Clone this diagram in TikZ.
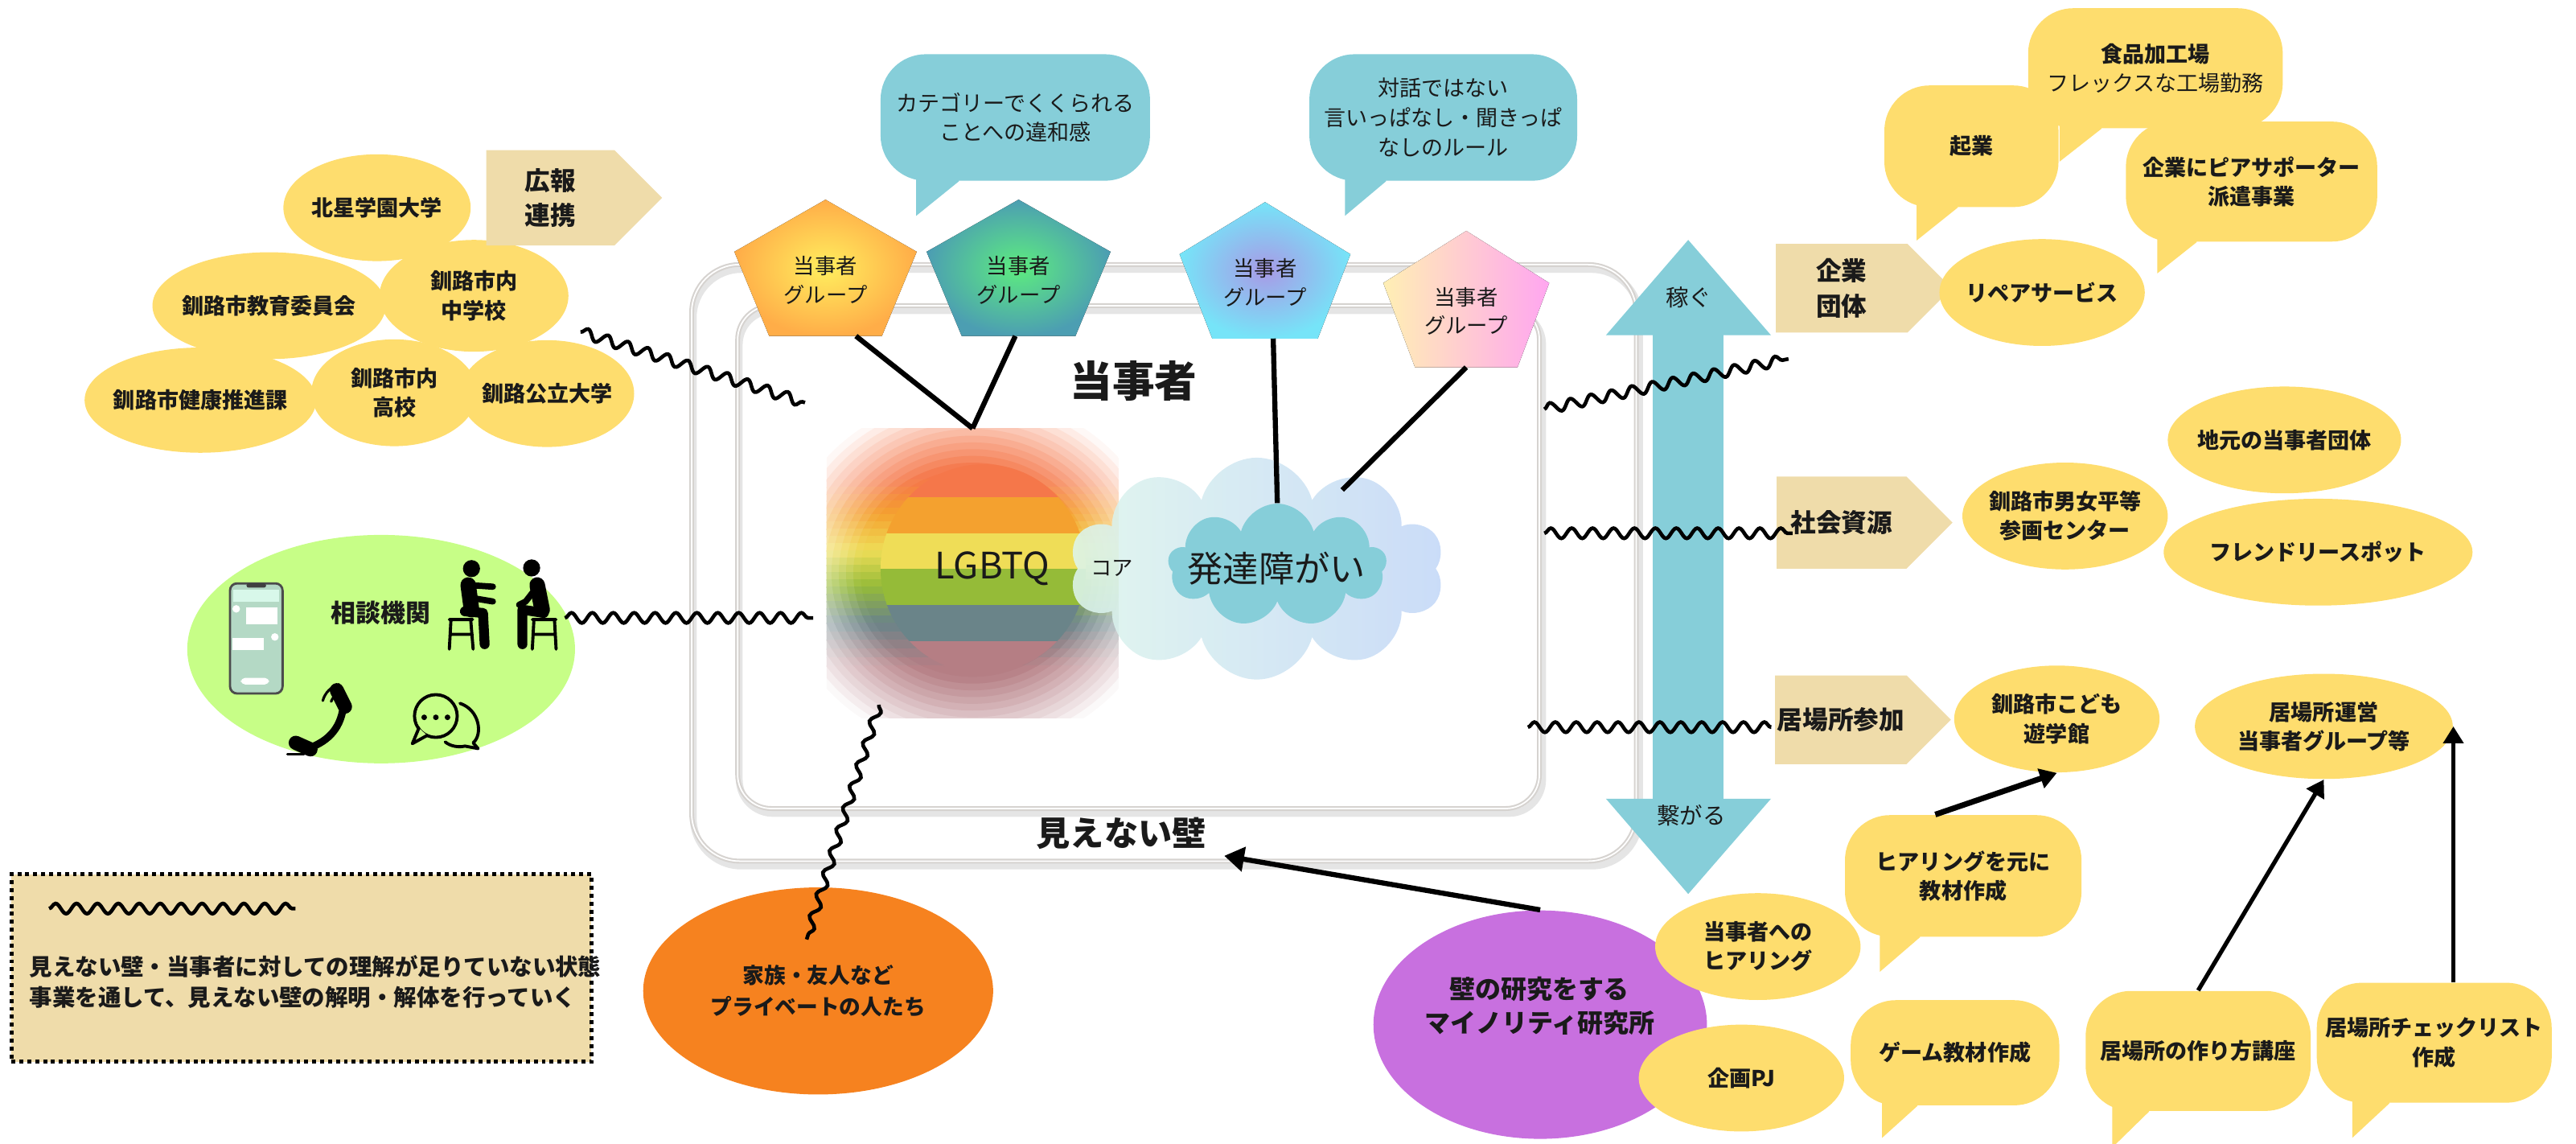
\documentclass[tikz,border=0pt]{standalone}
\usepackage{fontspec}
\setmainfont{Noto Sans CJK JP}
\usetikzlibrary{shapes.geometric,shapes.symbols,decorations.pathmorphing,arrows.meta}

\newlength{\pxu}
\setlength{\pxu}{0.020427cm}

\definecolor{yelc}{HTML}{FEDD6E}
\definecolor{tanc}{HTML}{EFDCAA}
\definecolor{tealc}{HTML}{86CED9}
\definecolor{limec}{HTML}{C7FE87}
\definecolor{orangec}{HTML}{F6821F}
\definecolor{purplec}{HTML}{C870DF}
\definecolor{framec}{HTML}{D6D3D0}
\definecolor{inkc}{HTML}{1A1A1A}
\definecolor{mintc}{HTML}{DDF5EC}
\definecolor{periwc}{HTML}{C3D7F7}
\definecolor{phonec}{HTML}{B4D9C5}
\definecolor{phonetopc}{HTML}{D8F8EA}
\definecolor{pgAin}{HTML}{FFEE5E}\definecolor{pgAout}{HTML}{FFAD48}
\definecolor{pgBin}{HTML}{5DEC7F}\definecolor{pgBout}{HTML}{4C9EB2}
\definecolor{pgCin}{HTML}{A89AE6}\definecolor{pgCout}{HTML}{76E4F8}
\definecolor{pgDl}{HTML}{FFEFB4}\definecolor{pgDr}{HTML}{FFA6F0}
% rainbow bands, top to bottom
\definecolor{rbA}{HTML}{F5774A}
\definecolor{rbB}{HTML}{F4A12F}
\definecolor{rbC}{HTML}{EFDD57}
\definecolor{rbD}{HTML}{95BB38}
\definecolor{rbE}{HTML}{6A8489}
\definecolor{rbF}{HTML}{B57E84}

% pentagon for one group: name, centre, half width, fill
\newcommand{\grouppent}[4]{%
  \fill[#4] (#2) +(0,-41.5) -- +(#3,-9.8) -- +({0.618*#3},41.5) -- +({-0.618*#3},41.5) -- +(-#3,-9.8) -- cycle;
  \path (#2) ++(0,41.5) coordinate (#1-foot);
  \path (#2) ++(0,7.5) node[grp] (#1) {当事者\\グループ};}
% tail under a speech bubble: node, colour, left offset, right offset, drop
\newcommand{\bubbletail}[5]{%
  \fill[#2] ([xshift=#3\pxu, yshift=14\pxu]#1.south west) -- ([xshift=#3\pxu, yshift=-#5\pxu]#1.south west)
    -- ([xshift=#4\pxu]#1.south west) -- ([xshift=#4\pxu, yshift=14\pxu]#1.south west) -- cycle;}

\begin{document}
\begin{tikzpicture}[x=0.020427cm, y=-0.020427cm,
  every node/.style={text=inkc},
  lbl/.style={font=\fontsize{7.7}{10.3}\selectfont\bfseries, align=center},
  lite/.style={font=\fontsize{7.7}{10.5}\selectfont, align=center},
  tagtxt/.style={font=\fontsize{9}{12.4}\selectfont\bfseries, align=center},
  blob/.style={ellipse, fill=yelc, inner sep=0pt, inner xsep=-6pt, lbl},
  bubble/.style={rectangle, rounded corners=16pt, fill=yelc, inner sep=0pt, lbl},
  tag/.style={signal, signal to=east, fill=tanc, inner sep=0pt, tagtxt, minimum width=107\pxu, minimum height=54\pxu},
  wave/.style={decorate, decoration={snake, amplitude=1.8pt, segment length=7.4pt}, line width=1.3pt},
  link/.style={line width=1.8pt},
  push/.style={line width=1.5pt, -{Triangle[length=6pt, width=7pt]}},
  grp/.style={font=\fontsize{7.5}{10}\selectfont, align=center, inner sep=0pt},
  frameline/.style={line width=1.7pt, draw=framec},
]
\useasboundingbox (0,0) rectangle (1568,696);

% the two walls
\draw[black!10, line width=2.4pt, rounded corners=17pt] (422,164) rectangle (998,527);
\draw[frameline, rounded corners=17pt] (421,161) rectangle (996,524);
\draw[white, line width=0.5pt, rounded corners=17pt] (421,161) rectangle (996,524);
\draw[black!10, line width=2.4pt, rounded corners=12pt] (450,189) rectangle (939,495);
\draw[frameline, rounded corners=12pt] (449,186) rectangle (937,492);
\draw[white, line width=0.5pt, rounded corners=12pt] (449,186) rectangle (937,492);

% voices of the groups
\node[bubble, fill=tealc, lite, minimum width=164\pxu, minimum height=77\pxu] (iwakan) at (618,71.5) {カテゴリーでくくられる\\ことへの違和感};
\bubbletail{iwakan}{tealc}{22}{48}{21}
\node[bubble, fill=tealc, lite, minimum width=163\pxu, minimum height=77\pxu] (rule) at (878.5,71.5) {対話ではない\\言いっぱなし・聞きっぱ\\なしのルール};
\bubbletail{rule}{tealc}{22}{47}{21}

% public partners
\node[blob, minimum width=114\pxu, minimum height=65\pxu] (hokusei) at (229.5,126.4) {北星学園大学};
\node[blob, minimum width=142\pxu, minimum height=65\pxu] (kyoiku) at (163.8,186) {釧路市教育委員会};
\node[blob, minimum width=115\pxu, minimum height=68\pxu] (chugaku) at (288.5,180) {釧路市内\\中学校};
\node[blob, minimum width=141\pxu, minimum height=64\pxu] (kenko) at (122,243.5) {釧路市健康推進課};
\node[blob, minimum width=101\pxu, minimum height=65\pxu] (koko) at (240,239) {釧路市内\\高校};
\node[blob, minimum width=106\pxu, minimum height=65\pxu] (koritsu) at (333,239.5) {釧路公立大学};
\node[tag, minimum height=58\pxu] (tagkoho) at (335,120.4) {広報\\連携};

% consultation
\node[ellipse, fill=limec, minimum width=236\pxu, minimum height=139\pxu, inner sep=0pt] (soudan) at (232,395) {};
\node[font=\fontsize{8.8}{10}\selectfont\bfseries] (soudantxt) at (231.8,372.8) {相談機関};
% smartphone
\draw[black!70, line width=0.8pt, fill=phonec, rounded corners=2.5pt] (140,355) rectangle (172,422);
\fill[phonetopc] (142,359) rectangle (170,366);
\fill[black!75, rounded corners=0.8pt] (150,355) rectangle (162,357.6);
\fill[white] (149.7,369.6) rectangle (169,380);
\fill[white] (141.5,388) rectangle (160.8,395.6);
\fill[white] (143.8,370.5) circle (2.3);
\fill[white] (167.3,387.6) circle (2.3);
\fill[white, rounded corners=1.5pt] (146.6,412.5) rectangle (163.8,416.5);
% two people on stools
\begin{scope}[line cap=round, line join=round]
  \fill (287,346) circle (5.2);
  \draw[line width=5.5pt] (285,356) -- (287,371);
  \draw[line width=2.2pt] (285,356) -- (300,357);
  \draw[line width=2.2pt] (288,364) -- (300,366);
  \draw[line width=3.5pt] (283,372) -- (294,373) -- (295,392);
  \draw[line width=1.1pt] (273.5,377) -- (287.7,377) (274.5,377) -- (273.5,395) (286.5,377) -- (288,395) (274,386) -- (287.5,386);
  \fill (323.6,345.6) circle (5.2);
  \draw[line width=5.5pt] (327,356) -- (330,371);
  \draw[line width=2.2pt] (327,357) -- (320,366) -- (316,368);
  \draw[line width=3.5pt] (331,373) -- (318,371) -- (318,392);
  \draw[line width=1.1pt] (324,377) -- (338.4,377) (325,377) -- (324,395) (337.5,377) -- (338.5,395) (324.5,386) -- (338,386);
  % phone handset
  \draw[line width=2.6pt] (209,430) .. controls (207,445) and (198,452) .. (186,456);
  \draw[line width=5pt] (205,420) -- (210,430);
  \draw[line width=5pt] (180,452) -- (189,456);
  \draw[line width=0.9pt] ([shift={(200:9)}]210,430) arc[start angle=200, end angle=250, radius=9];
  \draw[line width=0.9pt] ([shift={(195:14)}]210,430) arc[start angle=195, end angle=255, radius=14];
  \draw[line width=1pt] (175,459) -- (185,459);
  % chat bubbles
  \draw[line width=1.1pt] (265.3,435.7) circle (13);
  \draw[line width=1.1pt, fill=limec] (255,443) -- (251,452.5) -- (260,447.5);
  \foreach \dx in {-7.1,0,7.1} \fill ({265.3+\dx},436.5) circle (1.7);
  \draw[line width=1.1pt] (280,428) .. controls (292,432) and (294,447) .. (288,452) -- (291,455.5) -- (283,454) .. controls (279,455) and (274,454) .. (271,451.5);
\end{scope}

% legend
\node[draw=black, line width=1.3pt, dash pattern=on 1.4pt off 1.4pt, fill=tanc, minimum width=353\pxu, minimum height=114\pxu, inner sep=0pt] (legend) at (183.5,589) {};
\draw[wave] ([xshift=24\pxu, yshift=-22\pxu]legend.north west) -- ([xshift=174\pxu, yshift=-22\pxu]legend.north west);
\node[anchor=west, align=left, font=\fontsize{8.1}{11}\selectfont\bfseries] (legendtxt) at ([xshift=6\pxu, yshift=-8.5\pxu]legend.west) {見えない壁・当事者に対しての理解が足りていない状態\\事業を通して、見えない壁の解明・解体を行っていく};

% rainbow core with its soft halo (rings washed towards white)
\node[minimum width=177\pxu, minimum height=175.5\pxu, inner sep=0pt] (rainbow) at (592,348.75) {};
\begin{scope}
  \clip (rainbow.north west) rectangle (rainbow.south east);
  \foreach \s in {1.32,1.27,...,0.7} {
    \pgfmathtruncatemacro{\pmix}{min(100,(1.35-\s)*182)}
    \begin{scope}
      \clip (rainbow.center) ellipse [x radius=88.5*\s, y radius=82*\s];
      \fill[rbA!\pmix!white] (500,258) rectangle (684,293);
      \foreach \ca/\cb/\ya/\len in {rbA/rbB/292/21, rbB/rbC/313/22, rbC/rbD/335/22, rbD/rbE/357/22, rbE/rbF/379/26}
        \foreach \k in {0,...,4} {
          \pgfmathtruncatemacro{\pband}{90-20*\k}
          \fill[\ca!\pband!\cb!\pmix!white] (500,{\ya+\k*\len/5}) rectangle (684,{\ya+(\k+1)*\len/5+0.8});
        }
      \fill[rbF!\pmix!white] (500,405) rectangle (684,440);
    \end{scope}
  }
\end{scope}
\begin{scope}
  \clip (598.5,346) ellipse [x radius=62.5, y radius=63.5];
  \foreach \col/\ya/\yb in {rbA/280/302.5, rbB/302.5/324.5, rbC/324.5/346, rbD/346/368, rbE/368/390, rbF/390/412}
    \fill[\col] (530,\ya) rectangle (670,\yb);
\end{scope}
\node[font=\fontsize{12.9}{14}\selectfont] (lgbtq) at (604,346) {LGBTQ};

% clouds
\node[cloud, cloud puffs=10, cloud ignores aspect, minimum width=228\pxu, minimum height=135\pxu, inner sep=0pt, left color=mintc, right color=periwc, fill opacity=0.88] (cloudout) at (765,346) {};
\node[cloud, cloud puffs=9, cloud ignores aspect, minimum width=133\pxu, minimum height=75\pxu, inner sep=0pt, fill=tealc] (cloudin) at (777.5,344) {};
\node[font=\fontsize{12.6}{14}\selectfont] (hattatsu) at (777,346) {発達障がい};
\node[font=\fontsize{7.5}{9}\selectfont] (core) at (677,346) {コア};

% groups
\grouppent{grpA}{502.5,163}{55.5}{inner color=pgAin, outer color=pgAout}
\grouppent{grpB}{620,163}{56}{inner color=pgBin, outer color=pgBout}
\grouppent{grpC}{770,164.5}{52}{inner color=pgCin, outer color=pgCout}
\grouppent{grpD}{892.5,182}{50.5}{left color=pgDl, right color=pgDr}

\node[font=\fontsize{15}{17}\selectfont\bfseries] (tojisha) at (690,232) {当事者};
\node[font=\fontsize{12}{14}\selectfont\bfseries] (kabe) at (682.5,507) {見えない壁};

% earn / connect
\fill[tealc] (1006,486) -- (1006,204) -- (977.5,204) -- (1027.6,146) -- (1078,204) -- (1049,204) -- (1049,486) -- (1078,486) -- (1027.6,544) -- (977.5,486) -- cycle;
\node[font=\fontsize{8.1}{10}\selectfont] (kasegu) at (1028,181) {稼ぐ};
\node[font=\fontsize{8.1}{10}\selectfont] (tsunagaru) at (1029.5,496) {繋がる};

\node[tag] (tagkigyo) at (1121,175.4) {企業\\団体};
\node[tag, minimum height=56\pxu] (tagshakai) at (1121,318) {社会資源};
\node[tag] (tagibasho) at (1120.5,438) {居場所参加};

% companies
\node[bubble, minimum width=155\pxu, minimum height=73\pxu] (shokuhin) at (1312,41.5) {食品加工場\\{\mdseries フレックスな工場勤務}};
\bubbletail{shokuhin}{yelc}{19.5}{45}{20}
\node[bubble, minimum width=106\pxu, minimum height=74\pxu] (startup) at (1200,89) {起業};
\bubbletail{startup}{yelc}{20}{45}{20}
\node[bubble, minimum width=153\pxu, minimum height=73\pxu] (pia) at (1370.5,110.5) {企業にピアサポーター\\派遣事業};
\bubbletail{pia}{yelc}{19.5}{43.5}{19}
\node[blob, minimum width=125\pxu, minimum height=65\pxu] (repair) at (1243,178) {リペアサービス};

% social resources
\node[blob, minimum width=142\pxu, minimum height=65\pxu] (jimoto) at (1390.5,267.7) {地元の当事者団体};
\node[blob, minimum width=125\pxu, minimum height=65\pxu] (danjo) at (1257,314) {釧路市男女平等\\参画センター};
\node[blob, minimum width=188\pxu, minimum height=65\pxu] (friendly) at (1411,336) {フレンドリースポット};

% places to be
\node[blob, minimum width=125\pxu, minimum height=65\pxu] (kodomo) at (1252,437.5) {釧路市こども\\遊学館};
\node[blob, minimum width=157\pxu, minimum height=64\pxu] (unei) at (1414.5,442) {居場所運営\\当事者グループ等};

% the laboratory
\node[ellipse, fill=purplec, minimum width=203\pxu, minimum height=139\pxu, inner sep=0pt] (kenkyu) at (937.5,623.5) {};
\node[font=\fontsize{9.1}{12}\selectfont\bfseries, align=center] (kenkyutxt) at (937,612) {壁の研究をする\\マイノリティ研究所};
\node[blob, minimum width=125\pxu, minimum height=65\pxu] (hearing) at (1070,576) {当事者への\\ヒアリング};
\node[blob, minimum width=125\pxu, minimum height=65\pxu] (kikaku) at (1060,656) {企画PJ};
\node[bubble, minimum width=144\pxu, minimum height=74\pxu] (kyozai) at (1195,533) {ヒアリングを元に\\教材作成};
\bubbletail{kyozai}{yelc}{21.6}{46}{21}
\node[bubble, minimum width=127\pxu, minimum height=64\pxu] (game) at (1190,640.6) {ゲーム教材作成};
\bubbletail{game}{yelc}{19.4}{41}{19.5}
\node[bubble, minimum width=137\pxu, minimum height=73\pxu] (koza) at (1338,639.5) {居場所の作り方講座};
\bubbletail{koza}{yelc}{16.5}{39}{22}
\node[bubble, minimum width=143\pxu, minimum height=73\pxu] (check) at (1481.7,634.5) {居場所チェックリスト\\作成};
\bubbletail{check}{yelc}{22}{44.6}{21}

\node[blob, fill=orangec, minimum width=213\pxu, minimum height=126\pxu, font=\fontsize{7.6}{11}\selectfont\bfseries] (family) at (498,603) {家族・友人など\\プライベートの人たち};

% ties of the groups
\draw[link] ([xshift=18.5\pxu]grpA-foot) -- (rainbow.north);
\draw[link] ([xshift=-2\pxu]grpB-foot) -- (rainbow.north);
\draw[link] ([xshift=5\pxu]grpC-foot) -- (cloudin.north);
\draw[link] (grpD-foot) -- ([xshift=52\pxu, yshift=-20\pxu]cloudout.north);

% walls
\coordinate (wallL1) at (490,245);
\coordinate (wallL2) at (495,376);
\coordinate (wallR1) at (940,249);
\coordinate (wallR2) at (940,324.5);
\coordinate (wallR3) at (930,442.5);
\draw[wave] ([xshift=7\pxu, yshift=-22\pxu]chugaku.east) -- (wallL1);
\draw[wave] ([xshift=-6.5\pxu, yshift=19\pxu]soudan.east) -- (wallL2);
\draw[wave] (wallR1) -- ([xshift=8\pxu, yshift=-43\pxu]tagkigyo.west);
\draw[wave] (wallR2) -- ([xshift=10\pxu, yshift=-6.5\pxu]tagshakai.west);
\draw[wave] (wallR3) -- ([xshift=-2\pxu, yshift=-4.5\pxu]tagibasho.west);
\draw[wave, decoration={snake, amplitude=1.5pt, segment length=8pt}] ([xshift=-57\pxu, yshift=8\pxu]rainbow.south) -- ([xshift=-7\pxu, yshift=-32\pxu]family.north);

% arrows
\draw[push, line width=1.8pt, -{Triangle[length=7pt, width=8.5pt]}] (kenkyu.north) -- ([xshift=5\pxu, yshift=2\pxu]kabe.south east);
\draw[push, line width=2pt] ([xshift=-17\pxu]kyozai.north) -- (kodomo.south);
\draw[push] (koza.north) -- (unei.south);
\draw[push] (unei.east |- check.north) -- (unei.east);
\end{tikzpicture}
\end{document}
